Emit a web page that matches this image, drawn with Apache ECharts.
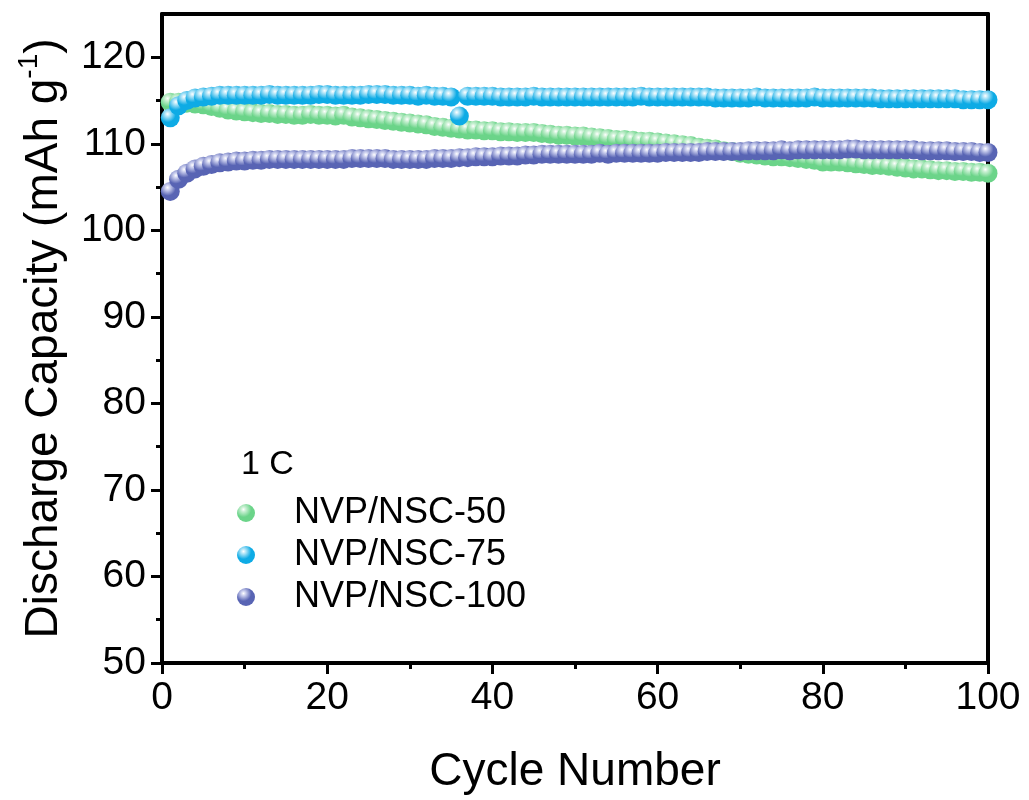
<!DOCTYPE html>
<html>
<head>
<meta charset="utf-8">
<script src="https://cdn.jsdelivr.net/npm/echarts@6/dist/echarts.min.js"></script>
<style>
  html, body { margin: 0; padding: 0; background: #ffffff; }
  #chart { width: 1029px; height: 800px; }
</style>
</head>
<body>
<div id="chart"></div>
<script>
// Cycle index 1..100
const cycles = [];
for (let i = 1; i <= 100; i++) cycles.push(i);

// Discharge capacity (mAh g-1) at 1 C
const nsc50 = [
  114.8, 114.8, 114.7, 114.6, 114.5, 114.3, 114.1, 113.9, 113.8, 113.7,
  113.6, 113.5, 113.5, 113.4, 113.4, 113.3, 113.3, 113.4, 113.3, 113.3,
  113.2, 113.3, 113.1, 113.0, 112.9, 112.8, 112.7, 112.6, 112.5, 112.4,
  112.3, 112.2, 112.0, 111.9, 111.8, 111.7, 111.6, 111.6, 111.5, 111.5,
  111.4, 111.4, 111.3, 111.3, 111.3, 111.2, 111.1, 111.0, 111.0, 110.9,
  110.9, 110.8, 110.7, 110.6, 110.5, 110.5, 110.4, 110.3, 110.3, 110.2,
  110.1, 110.0, 109.9, 109.8, 109.6, 109.5, 109.4, 109.2, 109.1, 108.9,
  108.8, 108.7, 108.6, 108.5, 108.5, 108.4, 108.3, 108.2, 108.1, 107.9,
  107.9, 107.9, 107.8, 107.7, 107.6, 107.5, 107.5, 107.4, 107.3, 107.2,
  107.1, 107.1, 107.0, 106.9, 106.9, 106.8, 106.8, 106.7, 106.7, 106.6
];
const nsc75 = [
  113.0, 114.4, 115.0, 115.3, 115.4, 115.5, 115.6, 115.6, 115.6, 115.6,
  115.6, 115.6, 115.7, 115.6, 115.6, 115.6, 115.6, 115.6, 115.7, 115.7,
  115.6, 115.6, 115.6, 115.6, 115.7, 115.7, 115.7, 115.6, 115.6, 115.6,
  115.5, 115.6, 115.5, 115.5, 115.4, 113.2, 115.5, 115.5, 115.5, 115.5,
  115.4, 115.4, 115.4, 115.4, 115.5, 115.4, 115.4, 115.4, 115.4, 115.4,
  115.4, 115.4, 115.4, 115.4, 115.4, 115.4, 115.4, 115.5, 115.4, 115.4,
  115.4, 115.4, 115.4, 115.4, 115.4, 115.4, 115.3, 115.3, 115.3, 115.3,
  115.3, 115.4, 115.3, 115.3, 115.3, 115.3, 115.3, 115.3, 115.4, 115.3,
  115.3, 115.3, 115.3, 115.3, 115.3, 115.3, 115.2, 115.2, 115.2, 115.2,
  115.2, 115.2, 115.2, 115.2, 115.2, 115.2, 115.1, 115.1, 115.1, 115.1
];
const nsc100 = [
  104.5, 105.9, 106.6, 107.1, 107.4, 107.6, 107.8, 107.9, 108.0, 108.0,
  108.1, 108.1, 108.2, 108.2, 108.2, 108.2, 108.2, 108.2, 108.2, 108.2,
  108.2, 108.2, 108.3, 108.3, 108.3, 108.3, 108.3, 108.2, 108.2, 108.2,
  108.2, 108.2, 108.3, 108.3, 108.3, 108.4, 108.4, 108.5, 108.5, 108.5,
  108.6, 108.6, 108.6, 108.7, 108.7, 108.8, 108.8, 108.8, 108.8, 108.8,
  108.8, 108.8, 108.9, 108.8, 108.9, 108.9, 108.9, 108.9, 108.9, 108.9,
  109.0, 109.0, 109.0, 109.0, 109.0, 109.1, 109.1, 109.1, 109.1, 109.1,
  109.2, 109.2, 109.2, 109.2, 109.3, 109.2, 109.3, 109.3, 109.3, 109.3,
  109.3, 109.3, 109.4, 109.4, 109.3, 109.3, 109.3, 109.3, 109.3, 109.3,
  109.3, 109.2, 109.2, 109.2, 109.2, 109.1, 109.1, 109.1, 109.0, 109.0
];

const seriesNames = ['NVP/NSC-50', 'NVP/NSC-75', 'NVP/NSC-100'];
const xTicks = [0, 20, 40, 60, 80, 100];
const yTicks = [50, 60, 70, 80, 90, 100, 110, 120];
const yMinorTicks = [55, 65, 75, 85, 95, 105, 115];

const FONT = '"Liberation Sans", Arial, sans-serif';

// glossy sphere fill
function sphere(base, light) {
  return {
    type: 'radial', x: 0.36, y: 0.3, r: 0.72,
    colorStops: [
      { offset: 0, color: '#ffffff' },
      { offset: 0.18, color: light },
      { offset: 0.6, color: base },
      { offset: 1, color: base }
    ]
  };
}

function pairs(vals) {
  return vals.map((v, i) => [cycles[i], v]);
}

const chart = echarts.init(document.getElementById('chart'), null, { renderer: 'canvas' });

const axisLineStyle = { color: '#000', width: 4 };

chart.setOption({
  animation: false,
  backgroundColor: '#ffffff',
  textStyle: { fontFamily: FONT },
  grid: { left: 162, right: 41, top: 14, bottom: 134, containLabel: false },
  title: {
    text: '1 C',
    left: 236, top: 443,
    textStyle: { fontFamily: FONT, fontSize: 34, fontWeight: 'normal', color: '#000' }
  },
  legend: {
    data: seriesNames,
    orient: 'vertical',
    left: 232, top: 490,
    icon: 'circle',
    itemWidth: 18, itemHeight: 18,
    itemGap: 6,
    textStyle: { fontFamily: FONT, fontSize: 36, color: '#000', lineHeight: 36, padding: [0, 0, 0, 34] }
  },
  xAxis: [
    {
      type: 'value', min: 0, max: 100, interval: 20,
      name: 'Cycle Number', nameLocation: 'middle', nameGap: 86,
      nameTextStyle: { fontFamily: FONT, fontSize: 46, color: '#000' },
      axisLine: { show: true, onZero: false, lineStyle: axisLineStyle },
      axisTick: { show: true, length: 11, lineStyle: { color: '#000', width: 3 }, customValues: xTicks },
      minorTick: { show: true, splitNumber: 2, length: 6, lineStyle: { color: '#000', width: 3 } },
      axisLabel: { fontFamily: FONT, fontSize: 39, color: '#000', margin: 16, customValues: xTicks },
      splitLine: { show: false }
    },
    {
      type: 'value', min: 0, max: 100, position: 'top',
      axisLine: { show: true, onZero: false, lineStyle: axisLineStyle },
      axisTick: { show: false }, axisLabel: { show: false }, splitLine: { show: false }
    }
  ],
  yAxis: [
    {
      type: 'value', min: 50, max: 125, interval: 10,
      name: '{a|Discharge Capacity (mAh g}{s|-1}{a|)}',
      nameLocation: 'middle', nameGap: 95,
      nameTextStyle: {
        fontFamily: FONT, color: '#000',
        rich: {
          a: { fontFamily: FONT, fontSize: 46, color: '#000', lineHeight: 52, verticalAlign: 'bottom' },
          s: { fontFamily: FONT, fontSize: 28, color: '#000', lineHeight: 52, verticalAlign: 'top', padding: [0, 0, 14, 0] }
        }
      },
      axisLine: { show: true, onZero: false, lineStyle: axisLineStyle },
      axisTick: { show: true, length: 11, lineStyle: { color: '#000', width: 3 }, customValues: yTicks },
      axisLabel: { fontFamily: FONT, fontSize: 39, color: '#000', margin: 16, customValues: yTicks },
      splitLine: { show: false }
    },
    {
      type: 'value', min: 50, max: 125, position: 'left',
      axisLine: { show: false },
      axisTick: { show: true, length: 6, lineStyle: { color: '#000', width: 3 }, customValues: yMinorTicks },
      axisLabel: { show: false }, splitLine: { show: false }
    },
    {
      type: 'value', min: 50, max: 125, position: 'right',
      axisLine: { show: true, onZero: false, lineStyle: axisLineStyle },
      axisTick: { show: false }, axisLabel: { show: false }, splitLine: { show: false }
    }
  ],
  series: [
    {
      name: seriesNames[0], type: 'scatter', symbol: 'circle', symbolSize: 19,
      data: pairs(nsc50),
      itemStyle: { color: sphere('#6bd489', '#c9f0d3'), opacity: 1 }
    },
    {
      name: seriesNames[1], type: 'scatter', symbol: 'circle', symbolSize: 19,
      data: pairs(nsc75),
      itemStyle: { color: sphere('#0eabe5', '#b5e6f8'), opacity: 1 }
    },
    {
      name: seriesNames[2], type: 'scatter', symbol: 'circle', symbolSize: 19,
      data: pairs(nsc100),
      itemStyle: { color: sphere('#5864b4', '#cbcfee'), opacity: 1 }
    }
  ]
});
</script>
</body>
</html>
